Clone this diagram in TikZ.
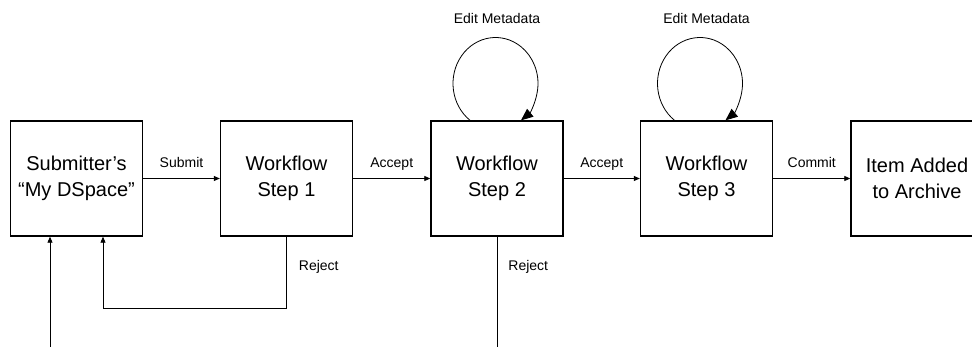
\documentclass[tikz,border=0pt]{standalone}
\usepackage{fontspec}
\setmainfont{Liberation Sans}
\usetikzlibrary{arrows.meta}
\usetikzlibrary{calc}

\tikzset{
  stepbox/.style = {draw, line width = 1.4pt, minimum width = 132pt, minimum height = 115pt,
    align = center, inner sep = 0pt, font = \fontsize{20}{26}\selectfont},
  flow/.style = {line width = .8pt, -{Triangle[length = 6pt, width = 5pt]}},
  editloop/.style = {line width = .8pt, -{Triangle[length = 12pt, width = 10pt]}},
  flowlabel/.style = {font = \fontsize{14}{16}\selectfont, inner sep = 0pt, text depth = 0pt},
}

\begin{document}
\begin{tikzpicture}[x = 1pt, y = -1pt]
  \useasboundingbox (0,0) rectangle (972,347);

  % boxes
\begin{scope}
    \node[stepbox] (submitter) at (76.5, 178.5) {Submitter{\char"27}s\\“My DSpace”};
    \node[stepbox] (step1) at (286.5, 178.5) {Workflow\\Step 1};
    \node[stepbox] (step2) at (497, 178.5) {Workflow\\Step 2};
    \node[stepbox] (step3) at (706.5, 178.5) {Workflow\\Step 3};
    \node[stepbox] (archive) at (917, 178.5) {Item Added\\to Archive};
\end{scope}

  % main line
    \draw[flow] (submitter) -- node[flowlabel, above = 11pt] {Submit} (step1);
    \draw[flow] (step1) -- node[flowlabel, above = 11pt] {Accept} (step2);
    \draw[flow] (step2) -- node[flowlabel, above = 11pt] {Accept} (step3);
    \draw[flow] (step3) -- node[flowlabel, above = 11pt] {Commit} (archive);

  % rejects and entry
    \coordinate (entry) at (50, 347);
    \coordinate (rejectend) at (497, 347);
    \draw[flow] (entry) -- (entry |- submitter.south);
    \draw[flow] (step1.south) -- node[flowlabel, anchor = west, xshift = 12pt, pos = .4] {Reject}
      ++(0, 72) -| ([xshift = 26.5pt]submitter.south);
    \draw[line width = .8pt] (step2.south) -- node[flowlabel, anchor = west, xshift = 11pt, pos = .26] {Reject}
      (rejectend);

  % edit metadata loops
    \draw[editloop] ([xshift = -27pt]step2.north)
      arc[start angle = 233.13, end angle = -53.13, x radius = 42.5pt, y radius = 46pt];
    \draw[editloop] ([xshift = -32pt]step3.north)
      arc[start angle = 233.13, end angle = -53.13, x radius = 42.5pt, y radius = 46pt];
    \node[flowlabel] (edit2) at ([yshift = 102pt]step2.north) {Edit Metadata};
    \node[flowlabel] (edit3) at ([yshift = 102pt]step3.north) {Edit Metadata};
\end{tikzpicture}
\end{document}
